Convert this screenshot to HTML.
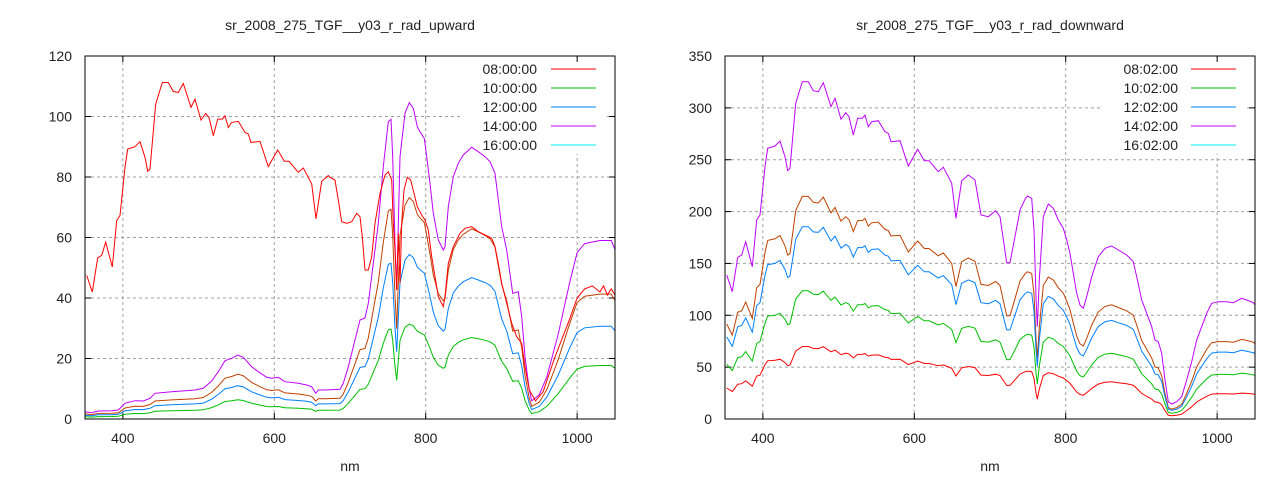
<!DOCTYPE html>
<html><head><meta charset="utf-8"><style>
html,body{margin:0;padding:0;background:#fff;}
svg{display:block;font-family:"Liberation Sans",sans-serif;}
</style></head><body>
<svg id="s" width="1280" height="480" xmlns="http://www.w3.org/2000/svg"></svg>
<script>
const S=document.getElementById('s');
let out='';
function add(t){out+=t;}
function conv(pts,ox,oy,axx,pxPerNm,y0,valPerPx){return pts.map(p=>{const px=ox+p[0]/3,py=oy+p[1]/3;return [350+(px-axx)/pxPerNm,(y0-py)*valPerPx];});}
const PPN=530/700;
const z7=[[5,615],[22,665],[38,562],[50,555],[62,515],[82,590],[95,450],[105,435],[120,290],[128,235],[150,228],[165,213],[180,260],[188,302],[195,295],[212,100],[232,35],[250,35],[265,62],[280,65],[295,38],[318,110],[330,85],[348,148],[362,128],[372,140],[385,195],[398,145],[412,145],[420,135],[430,170],[440,155],[460,152],[480,185],[490,190],[498,215],[525,212],[550,288],[578,238],[598,272],[612,272],[640,305],[655,292],[670,320],[680,340],[693,445],[710,332],[730,315],[750,330],[768,435],[790,440],[812,422],[825,440],[845,578],[855,578],[870,500],[885,420],[900,388]];
const z8=[[22,48],[35,55],[42,150],[48,350],[52,440],[58,300],[70,110],[85,72],[100,85],[115,120],[130,145],[140,180],[150,220],[160,280],[170,340],[180,375],[190,385],[200,350],[215,290],[235,230],[255,205],[275,198],[295,210],[320,225],[340,245],[350,290],[365,360],[380,400],[395,440],[405,480],[415,485],[425,520],[435,600],[445,665],[455,672],[470,665],[485,650],[500,600],[515,545],[530,480],[545,440],[560,400],[575,370],[595,365],[620,365],[640,368],[665,355],[680,360],[700,368],[708,375]];
const RV=350/363;
let B=conv(z7,725,70,725,PPN,419,RV).concat(conv(z8,1020,180,725,PPN,419,RV));
const z6=[[0,215],[20,218],[40,213],[80,212],[100,210],[120,190],[150,182],[175,183],[195,175],[210,160],[260,155],[300,152],[330,150],[355,145],[380,123],[400,95],[420,62],[440,55],[458,45],[475,52],[500,80],[520,95],[545,112],[560,115],[580,112],[600,125],[640,130],[665,135],[680,140],[692,160],[700,150],[720,150],[765,148],[775,130],[790,80]];
const z4m=[[90,690],[105,684],[115,640],[130,520],[145,400],[160,230],[175,95],[183,88],[188,200],[195,460],[200,600],[203,480],[210,200],[225,70],[238,38],[250,55],[262,110],[270,125],[283,145],[290,200],[300,280],[310,370],[325,450],[340,480],[345,470],[355,350],[370,260],[385,220],[400,195],[425,172],[445,185],[465,200],[480,215],[495,250],[505,330],[515,410],[530,480],[548,610],[565,605],[575,680],[585,800],[598,900]];
const LV=120/363;
let L=conv(z6,85,340,85,PPN,419,LV).concat(conv(z4m,330,90,85,PPN,419,LV)).concat([[940,6],[950,8],[960,14],[975,28],[990,45],[1000,55],[1010,58],[1030,59],[1045,59],[1050,56]]);
const z4r=[[0,262],[15,270],[25,330],[35,395],[50,400],[65,395],[80,370],[90,380],[97,440],[105,540],[115,540],[125,500],[135,400],[150,310],[165,255],[175,245],[185,270],[190,400],[195,480],[200,600],[205,430],[210,580],[215,400],[222,300],[232,262],[242,270],[252,310],[262,350],[275,375],[285,390],[295,420],[305,500],[315,560],[325,620],[340,650],[345,620],[355,520],[370,470],[390,430],[405,415],[425,410],[445,425],[465,435],[485,445],[495,470],[505,520],[515,580],[530,640],[545,700],[560,740],[575,760],[585,830],[598,900]];
let LR=B.filter(p=>p[0]<673).map(p=>[p[0],p[1]*0.342]).concat(conv(z4r,330,90,85,PPN,419,LV)).concat([[945,6],[955,9],[970,20],[990,33],[1000,40],[1010,43],[1020,44],[1030,42],[1035,44],[1040,41],[1045,43],[1050,41]]);
function path(pts,x0,y0,ymax,sc,col){
  let d='';pts.forEach((p,i)=>{let nm=Math.max(350,Math.min(1050,p[0]));const x=x0+(nm-350)*PPN;const y=419-p[1]*sc*363/ymax;d+=(i?'L':'M')+x.toFixed(1)+' '+Math.max(56,Math.min(419,y)).toFixed(1);});
  add(`<path d="${d}" fill="none" stroke="${col}" stroke-width="1"/>`);
}
function frame(x0,ymax,ystep,title,names,keyX){
  const x1=x0+530;
  for(let v=ystep;v<ymax;v+=ystep){const y=419-v*363/ymax;add(`<line x1="${x0}" y1="${y}" x2="${x1}" y2="${y}" stroke="#a0a0a0" stroke-dasharray="3,3"/>`);}
  for(let n=400;n<=1000;n+=200){const x=x0+(n-350)*PPN;add(`<line x1="${x}" y1="56" x2="${x}" y2="419" stroke="#a0a0a0" stroke-dasharray="3,3"/>`);}
  add(`<rect x="${keyX}" y="58" width="144" height="96" fill="#fff"/>`);
  for(let v=0;v<=ymax;v+=ystep){const y=419-v*363/ymax;add(`<line x1="${x0}" y1="${y}" x2="${x0+6}" y2="${y}" stroke="#000"/><line x1="${x1-6}" y1="${y}" x2="${x1}" y2="${y}" stroke="#000"/><text x="${x0-13}" y="${y+5}" text-anchor="end" font-size="14" fill="#222">${v}</text>`);}
  for(let n=400;n<=1000;n+=200){const x=x0+(n-350)*PPN;add(`<line x1="${x}" y1="419" x2="${x}" y2="413" stroke="#000"/><line x1="${x}" y1="56" x2="${x}" y2="62" stroke="#000"/><text x="${x}" y="443" text-anchor="middle" font-size="14" fill="#222">${n}</text>`);}
  add(`<text x="${x0+265}" y="30" text-anchor="middle" font-size="14" fill="#222">${title}</text>`);
  add(`<text x="${x0+265}" y="471" text-anchor="middle" font-size="14" fill="#222">nm</text>`);
}
function key(tx,lx,names){const cols=['#ff0000','#00c000','#0080ff','#c000ff','#00eeee'];names.forEach((n,i)=>{const y=69+i*19;add(`<text x="${tx}" y="${y+5}" text-anchor="end" font-size="14" fill="#222">${n}</text><line x1="${lx}" y1="${y}" x2="${lx+45}" y2="${y}" stroke="${cols[i]}" stroke-width="1"/>`);});}
frame(85,120,20,'sr_2008_275_TGF__y03_r_rad_upward',null,462);
path(L,85,419,120,0.70,'#c04000');
path(L,85,419,120,0.30,'#00c000');
path(L,85,419,120,0.52,'#0080ff');
path(L,85,419,120,1,'#c000ff');
path(LR,85,419,120,1,'#ff0000');
add(`<rect x="85" y="56" width="530" height="363" fill="none" stroke="#000"/>`);
key(537,551,['08:00:00','10:00:00','12:00:00','14:00:00','16:00:00']);
frame(725,350,50,'sr_2008_275_TGF__y03_r_rad_downward',null,1102);
path(B,725,419,350,0.66,'#c04000');
path(B,725,419,350,0.38,'#00c000');
path(B,725,419,350,0.57,'#0080ff');
path(B,725,419,350,1,'#c000ff');
path(B,725,419,350,0.215,'#ff0000');
add(`<rect x="725" y="56" width="530" height="363" fill="none" stroke="#000"/>`);
key(1178,1191,['08:02:00','10:02:00','12:02:00','14:02:00','16:02:00']);
S.innerHTML=out;
</script>
</body></html>
